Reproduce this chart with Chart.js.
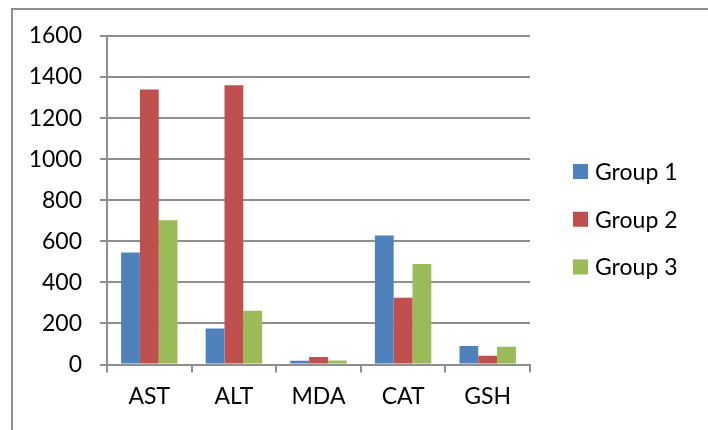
<!DOCTYPE html>
<html>
<head>
<meta charset="utf-8">
<script src="https://cdn.jsdelivr.net/npm/chart.js@4/dist/chart.umd.min.js"></script>
<style>
  html, body { margin: 0; padding: 0; background: #fff; }
  #wrap { width: 708px; height: 430px; position: relative; }
</style>
</head>
<body>
<div id="wrap"><canvas id="c" width="708" height="430"></canvas></div>
<script>
// Categories and series
const categories = ['AST', 'ALT', 'MDA', 'CAT', 'GSH'];
const group1 = [545, 175, 18, 628, 90];
const group2 = [1340, 1360, 36, 325, 43];
const group3 = [702, 262, 20, 490, 86];
const seriesNames = ['Group 1', 'Group 2', 'Group 3'];
const yTicks = [0, 200, 400, 600, 800, 1000, 1200, 1400, 1600];

const colors = ['#4F81BD', '#C0504D', '#9BBB59'];
const gridColor = '#8e8e8e';
const fontFamily = 'Lato, "Open Sans", sans-serif';
const fontSize = 23;

// Outer frame: only the left and top edges are visible
const framePlugin = {
  id: 'frame',
  beforeDraw(chart) {
    const ctx = chart.ctx;
    ctx.save();
    ctx.strokeStyle = '#8e8e8e';
    ctx.lineWidth = 2;
    ctx.beginPath();
    ctx.moveTo(12, chart.height);
    ctx.lineTo(12, 9);
    ctx.lineTo(chart.width, 9);
    ctx.stroke();
    ctx.restore();
  }
};

// Legend to the right of the plot, built from the datasets
const sideLegend = {
  id: 'sideLegend',
  afterDraw(chart) {
    const ctx = chart.ctx;
    const area = chart.chartArea;
    const ds = chart.data.datasets;
    const rowGap = 47.7;
    const box = 15;
    const x0 = area.right + 43;
    const midY = (area.top + area.bottom) / 2 + 19;
    const startY = midY - rowGap * (ds.length - 1) / 2;
    ctx.save();
    ctx.font = fontSize + 'px ' + fontFamily;
    ctx.textBaseline = 'middle';
    ctx.textAlign = 'left';
    ds.forEach((d, i) => {
      const cy = startY + i * rowGap;
      ctx.fillStyle = d.backgroundColor;
      ctx.fillRect(x0, cy - box / 2, box, box);
      ctx.fillStyle = '#000';
      ctx.fillText(d.label, x0 + 22, cy + 1);
    });
    ctx.restore();
  }
};

const datasets = [group1, group2, group3].map((vals, i) => ({
  label: seriesNames[i],
  data: vals,
  backgroundColor: colors[i],
  borderWidth: 0,
  categoryPercentage: 0.667,
  barPercentage: 1.0
}));

new Chart(document.getElementById('c'), {
  type: 'bar',
  data: { labels: categories, datasets },
  options: {
    responsive: false,
    animation: false,
    layout: { padding: { left: 0, top: 36, right: 178, bottom: 0 } },
    plugins: {
      legend: { display: false },
      tooltip: { enabled: false }
    },
    scales: {
      x: {
        afterFit(scale) { scale.height = 65.5; },
        grid: {
          offset: true,
          drawOnChartArea: false,
          drawTicks: true,
          tickLength: 8,
          color: gridColor,
          lineWidth: 2
        },
        border: { display: true, color: gridColor, width: 2 },
        ticks: {
          color: '#000',
          font: { family: fontFamily, size: fontSize },
          padding: 10,
          maxRotation: 0
        }
      },
      y: {
        min: 0,
        max: 1600,
        afterFit(scale) { scale.width = 107; },
        afterBuildTicks(scale) { scale.ticks = yTicks.map(v => ({ value: v })); },
        grid: {
          color: gridColor,
          lineWidth: 2,
          drawTicks: true,
          tickLength: 7
        },
        border: { display: true, color: gridColor, width: 2 },
        ticks: {
          color: '#000',
          font: { family: fontFamily, size: fontSize },
          padding: 18,
          callback: (v) => String(v)
        }
      }
    }
  },
  plugins: [framePlugin, sideLegend]
});
</script>
</body>
</html>
